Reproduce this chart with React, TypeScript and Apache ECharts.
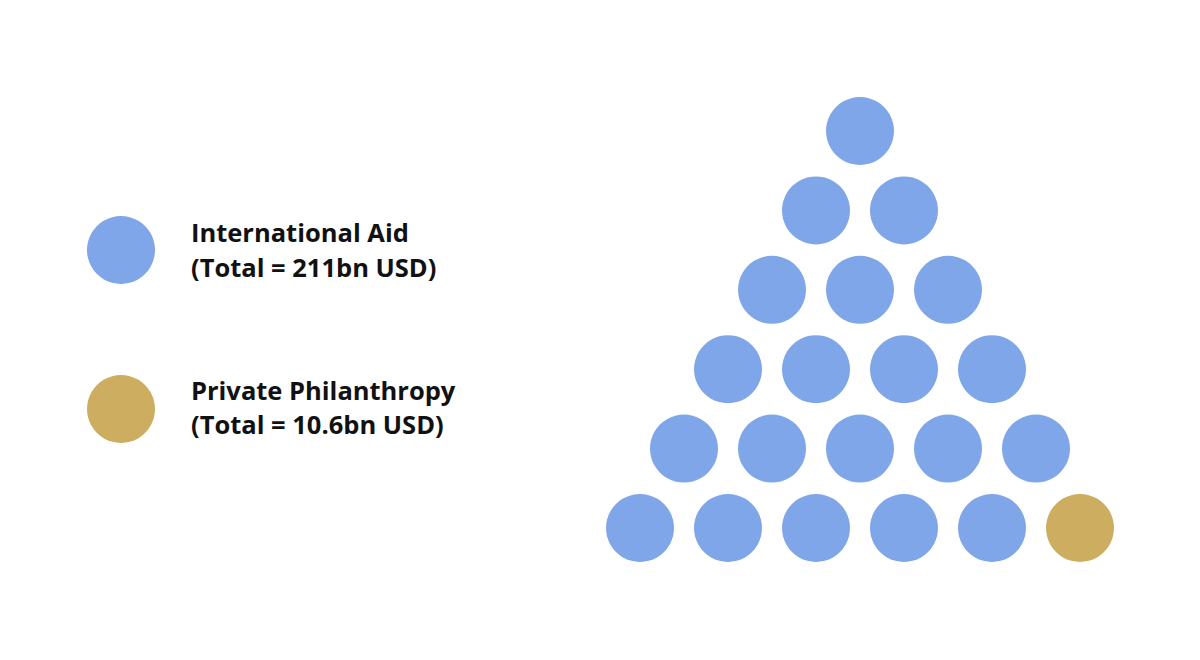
import React, { useEffect, useRef } from "react";
import * as echarts from "echarts";

// Data: rows of the triangle (row index 1..6), number of circles per row
const rowIndex = [1, 2, 3, 4, 5, 6];
const rowCounts = [1, 2, 3, 4, 5, 6];
// Which circle (row, column) belongs to Private Philanthropy
const philanthropyCells = [[6, 5]];

const seriesNames = ["International Aid", "Private Philanthropy"];
const legendLines = [
  ["International Aid", "(Total = 211bn USD)"],
  ["Private Philanthropy", "(Total = 10.6bn USD)"],
];
const colors = ["#7FA6E8", "#CDAD5F"];

export default function App() {
  const ref = useRef<HTMLDivElement>(null);
  useEffect(() => {
    if (!ref.current) return;
    const chart = echarts.init(ref.current, undefined, { renderer: "svg" });
    const aid: number[][] = [];
    const phil: number[][] = [];
    rowIndex.forEach((r, i) => {
      const n = rowCounts[i];
      for (let c = 0; c < n; c++) {
        const x = c - (n - 1) / 2;
        const isPhil = philanthropyCells.some((p) => p[0] === r && p[1] === c);
        (isPhil ? phil : aid).push([x, r]);
      }
    });
    const font = "'Open Sans', Lato, sans-serif";
    const legendGraphic: any[] = [];
    const legendCy = [250, 409];
    const baselines = [
      [242, 277],
      [400, 434],
    ];
    legendLines.forEach((lines, i) => {
      legendGraphic.push({
        type: "circle",
        shape: { cx: 121, cy: legendCy[i], r: 34 },
        style: { fill: colors[i] },
      });
      lines.forEach((t, j) => {
        legendGraphic.push({
          type: "text",
          x: 191,
          y: baselines[i][j] - 10,
          style: {
            text: t,
            fill: "#111111",
            font: `bold 25.5px ${font}`,
            verticalAlign: "middle",
            align: "left",
          },
        });
      });
    });
    chart.setOption({
      animation: false,
      backgroundColor: "#ffffff",
      grid: { left: 596, width: 528, top: 51.6, height: 555.8 },
      xAxis: { type: "value", min: -3, max: 3, show: false },
      yAxis: { type: "value", min: 0, max: 7, inverse: true, show: false },
      series: [
        {
          name: seriesNames[0],
          type: "scatter",
          data: aid,
          symbol: "circle",
          symbolSize: 68,
          itemStyle: { color: colors[0], opacity: 1 },
          silent: true,
        },
        {
          name: seriesNames[1],
          type: "scatter",
          data: phil,
          symbol: "circle",
          symbolSize: 68,
          itemStyle: { color: colors[1], opacity: 1 },
          silent: true,
        },
      ],
      graphic: legendGraphic,
    });
    return () => chart.dispose();
  }, []);
  return <div ref={ref} style={{ width: 1200, height: 660, margin: -8 }} />;
}
